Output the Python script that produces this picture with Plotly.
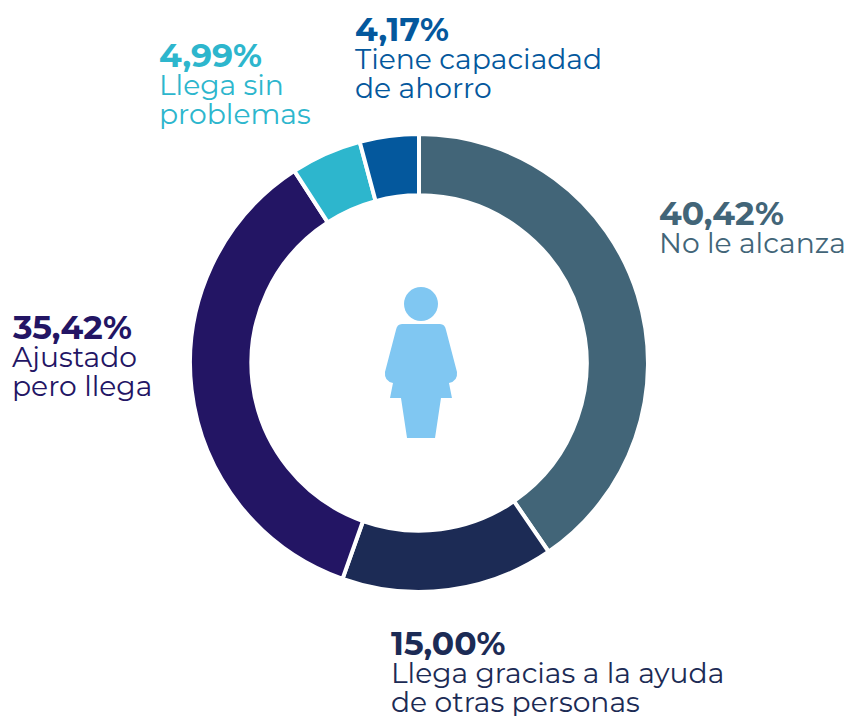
import plotly.graph_objects as go

pct = ["40,42%", "15,00%", "35,42%", "4,99%", "4,17%"]
label_lines = [["No le alcanza"], ["Llega gracias a la ayuda", "de otras personas"], ["Ajustado", "pero llega"], ["Llega sin", "problemas"], ["Tiene capaciadad", "de ahorro"]]
values = [40.42, 15.00, 35.42, 4.99, 4.17]
colors = ["#426578", "#1c2b55", "#231564", "#2db6cd", "#04589d"]
label_x = [659, 391, 12, 159, 355]
label_y = [213, 643, 327, 55, 29]
FONT = "Montserrat, Lato, 'Open Sans', sans-serif"

W, H = 851, 716
fig = go.Figure(go.Pie(values=values, labels=[" ".join(l) for l in label_lines], hole=0.732, sort=False, direction="clockwise", rotation=0,
    marker=dict(colors=colors, line=dict(color="white", width=4)), textinfo="none", hoverinfo="label+percent",
    domain=dict(x=[190/W, 648/W], y=[1-592/H, 1-134/H]), showlegend=False))

def note(text, x, y, color, size):
    fig.add_annotation(x=x/W, y=1-y/H, xref="paper", yref="paper", xanchor="left", yanchor="middle", align="left", showarrow=False,
        text=text, font=dict(family=FONT, size=size, color=color), borderpad=0, borderwidth=0)

for lines, p, c, x, y in zip(label_lines, pct, colors, label_x, label_y):
    note(f"<b>{p}</b>", x, y, c, 33)
    for i, line in enumerate(lines):
        note(line, x, y + 30 + i * 29, c, 28.2)

def X(x): return f"{x/W:.4f}"
def Y(y): return f"{1-y/H:.4f}"

ICON = "#80c7f2"
fig.add_shape(type="circle", xref="paper", yref="paper", x0=404/W, x1=438/W, y0=1-321/H, y1=1-287/H, fillcolor=ICON, line_width=0)
body = [("M",402,324),("L",440,324),("Q",445,324,446,330),("L",457,372),("Q",458,381,449,383),("L",452,398),("L",441,398),("L",435,438),("L",407,438),("L",401,398),("L",390,398),("L",393,383),("Q",384,381,385,372),("L",396,330),("Q",397,324,402,324)]
parts = []
for seg in body:
    cmd, nums = seg[0], seg[1:]
    coords = [X(n) if i % 2 == 0 else Y(n) for i, n in enumerate(nums)]
    parts.append(cmd + " " + " ".join(coords))
fig.add_shape(type="path", xref="paper", yref="paper", path=" ".join(parts) + " Z", fillcolor=ICON, line_width=0)
fig.update_layout(width=W, height=H, margin=dict(l=0, r=0, t=0, b=0), paper_bgcolor="white")
fig.write_html("out.html", post_script="document.body.style.margin='0';", config=dict(displayModeBar=False))
